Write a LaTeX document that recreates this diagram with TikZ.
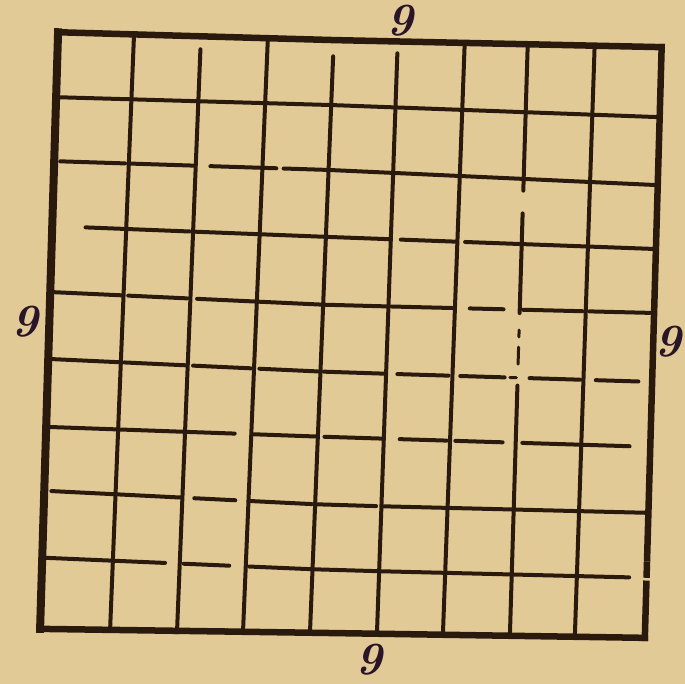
\documentclass[tikz,border=0pt]{standalone}
\usetikzlibrary{calc}
\definecolor{parch}{HTML}{E2CA97}
\definecolor{ink}{HTML}{2A1A0D}
\definecolor{lblink}{HTML}{2A1428}
\tikzset{
  inkline/.style={draw=ink, line width=4pt, line cap=round},
  border/.style={draw=ink, line width=6.5pt, line cap=rect},
  lbl/.style={text=lblink, font=\fontsize{46}{46}\selectfont\bfseries\itshape, inner sep=0pt}
}
\newcommand\hseg[4][]{%
  \pgfmathtruncatemacro\gsA{min(floor(#3),8)}%
  \pgfmathsetmacro\gfA{#3-\gsA}%
  \pgfmathtruncatemacro\gsAn{\gsA+1}%
  \pgfmathtruncatemacro\gsB{min(floor(#4),8)}%
  \pgfmathsetmacro\gfB{#4-\gsB}%
  \pgfmathtruncatemacro\gsBn{\gsB+1}%
  \ifnum\gsB>\gsA
    \draw[inkline,#1] ($(p\gsA-#2)!\gfA!(p\gsAn-#2)$) \foreach \k in {\gsAn,...,\gsB}{ -- (p\k-#2)} -- ($(p\gsB-#2)!\gfB!(p\gsBn-#2)$);
  \else
    \draw[inkline,#1] ($(p\gsA-#2)!\gfA!(p\gsAn-#2)$) -- ($(p\gsB-#2)!\gfB!(p\gsBn-#2)$);
  \fi
}
\newcommand\vseg[4][]{%
  \pgfmathtruncatemacro\gsA{min(floor(#3),8)}%
  \pgfmathsetmacro\gfA{#3-\gsA}%
  \pgfmathtruncatemacro\gsAn{\gsA+1}%
  \pgfmathtruncatemacro\gsB{min(floor(#4),8)}%
  \pgfmathsetmacro\gfB{#4-\gsB}%
  \pgfmathtruncatemacro\gsBn{\gsB+1}%
  \ifnum\gsB>\gsA
    \draw[inkline,#1] ($(p#2-\gsA)!\gfA!(p#2-\gsAn)$) \foreach \k in {\gsAn,...,\gsB}{ -- (p#2-\k)} -- ($(p#2-\gsB)!\gfB!(p#2-\gsBn)$);
  \else
    \draw[inkline,#1] ($(p#2-\gsA)!\gfA!(p#2-\gsAn)$) -- ($(p#2-\gsB)!\gfB!(p#2-\gsBn)$);
  \fi
}
\begin{document}
\begin{tikzpicture}[x=1pt,y=-1pt]
\fill[parch] (0,0) rectangle (685,684);
\useasboundingbox (0,0) rectangle (685,684);
% grid intersection points
\foreach \i in {0,...,9}{
  \foreach \j in {0,...,9}{
    \pgfmathsetmacro\T{{58,134,201,268,334,398,465,528,595,662}[\i]}
    \pgfmathsetmacro\B{{40,110,177,243,310,377,443,510,575,645}[\i]}
    \pgfmathsetmacro\L{{32,97,161,226,292,359,427,491,558,629}[\j]}
    \pgfmathsetmacro\M{{40,105,170,237,305,372,437,505,570,633}[\j]}
    \pgfmathsetmacro\R{{47,117,185,249,313,382,447,513,578,638}[\j]}
    \pgfmathsetmacro\xa{\T+(\B-\T)*(\L-35)/597}
    \pgfmathsetmacro\ya{\xa<330 ? \L+(\M-\L)*(\xa-50)/280 : \M+(\R-\M)*(\xa-330)/325}
    \pgfmathsetmacro\xb{\T+(\B-\T)*(\ya-35)/597}
    \pgfmathsetmacro\yb{\xb<330 ? \L+(\M-\L)*(\xb-50)/280 : \M+(\R-\M)*(\xb-330)/325}
    \coordinate (p\i-\j) at (\xb,\yb);
  }
}
% interior vertical lines
\vseg{1}{0}{9}
\vseg{2}{0.2}{9}
\vseg{3}{0}{9}
\vseg{4}{0.25}{9}
\vseg{5}{0.18}{9}
\vseg{6}{0}{9}
\vseg{7}{0}{2.18}
\vseg{7}{2.53}{4.05}
\vseg[line width=3pt]{7}{4.3}{4.4}
\vseg[line width=3pt]{7}{4.55}{4.8}
\vseg{7}{5.12}{9}
\vseg{8}{0}{9}
% interior horizontal lines
\hseg{1}{0}{9}
\hseg{2}{0.08}{0.95}
\hseg{2}{1.03}{1.97}
\hseg{2}{2.22}{3.21}
\hseg{2}{3.32}{9}
\hseg{3}{0.45}{1.95}
\hseg{3}{2.0}{4.97}
\hseg{3}{5.15}{5.97}
\hseg{3}{6.12}{9}
\hseg{4}{0}{0.97}
\hseg{4}{1.07}{1.95}
\hseg{4}{2.1}{4.97}
\hseg{4}{5.05}{5.98}
\hseg{4}{6.23}{6.75}
\hseg{4}{7.05}{7.95}
\hseg{4}{8.05}{8.94}
\hseg{5}{0.05}{0.97}
\hseg{5}{1.05}{1.98}
\hseg{5}{2.08}{2.95}
\hseg{5}{3.08}{3.97}
\hseg{5}{4.05}{4.97}
\hseg{5}{5.17}{5.94}
\hseg{5}{6.12}{6.8}
\hseg[line width=3pt]{5}{6.88}{6.98}
\hseg{5}{7.18}{7.95}
\hseg{5}{8.18}{8.8}
\hseg{6}{0}{0.97}
\hseg{6}{1.03}{1.97}
\hseg{6}{2.0}{2.75}
\hseg{6}{3.03}{3.97}
\hseg{6}{4.1}{4.97}
\hseg{6}{5.24}{5.95}
\hseg{6}{6.08}{6.8}
\hseg{6}{7.1}{7.97}
\hseg{6}{8.03}{8.7}
\hseg{7}{0.1}{1.97}
\hseg{7}{2.18}{2.8}
\hseg{7}{3.0}{3.95}
\hseg{7}{4.02}{4.92}
\hseg{7}{5.03}{9}
\hseg{8}{0}{1.78}
\hseg{8}{2.06}{2.75}
\hseg{8}{3.05}{8.75}
% borders
\draw[border, line width=8pt] (p0-0) -- (p0-9);
\draw[border] (p0-0) -- (p1-0) -- (p2-0) -- (p3-0) -- (p4-0) -- (p5-0) -- (p6-0) -- (p7-0) -- (p8-0) -- (p9-0);
\vseg[border]{9}{0}{7.7}
\vseg[border]{9}{7.8}{7.95}
\vseg[border]{9}{8.1}{9}
\hseg[border]{9}{0}{1.98}
\hseg[border]{9}{2.02}{2.73}
\hseg[border]{9}{2.79}{4.99}
\hseg[border]{9}{5.08}{9}
% labels
\node[lbl] (ltop) at (400,21) {9};
\node[lbl] (lleft) at (25,322) {9};
\node[lbl] (lright) at (668,342) {9};
\node[lbl] (lbot) at (369,660) {9};
\end{tikzpicture}
\end{document}
